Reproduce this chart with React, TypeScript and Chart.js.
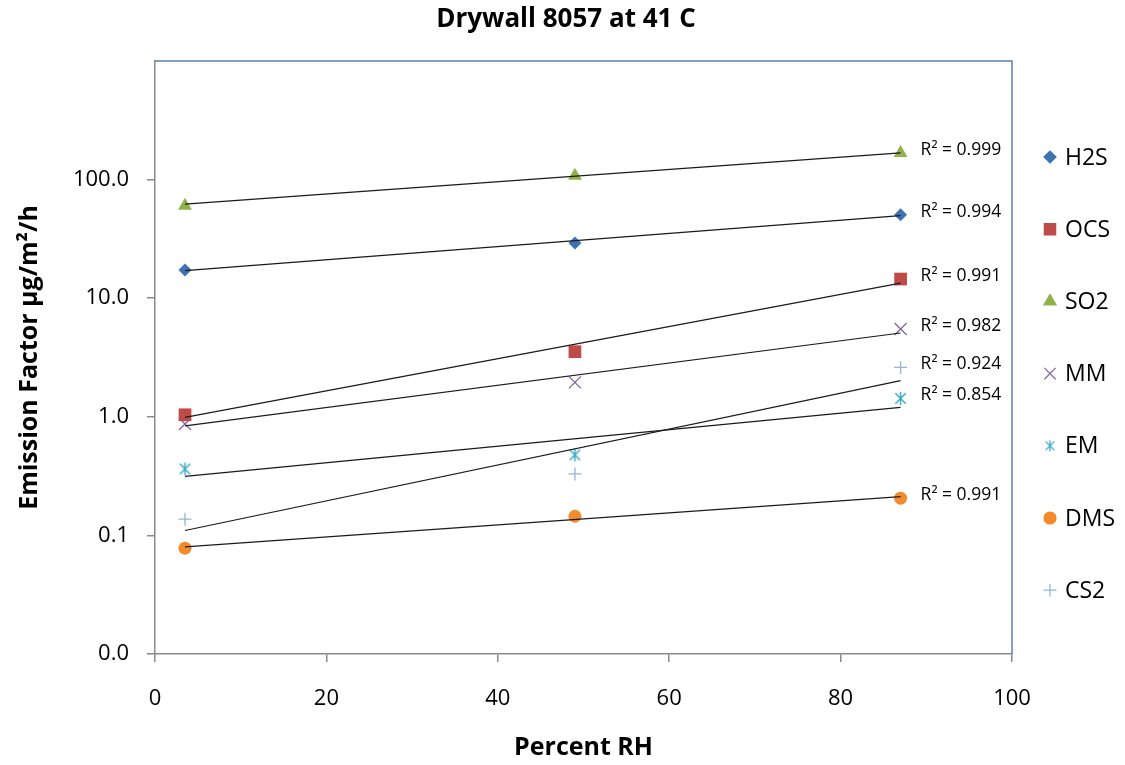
import React, { useEffect, useRef } from 'react';
import { Chart, registerables } from 'chart.js';
import { drawPoint } from 'chart.js/helpers';

Chart.register(...registerables);

// ---------- data ----------
const seriesNames = ['H2S', 'OCS', 'SO2', 'MM', 'EM', 'DMS', 'CS2'];
const percentRH = [3.5, 49, 87];

const h2sValues = [17.3, 29.2, 50.6];
const ocsValues = [1.04, 3.54, 14.5];
const so2Values = [60.3, 108, 168];
const mmValues = [0.87, 1.95, 5.5];
const emValues = [0.363, 0.477, 1.43];
const dmsValues = [0.078, 0.145, 0.206];
const cs2Values = [0.137, 0.33, 2.61];

// exponential trendline end points
const trendRH = [3.5, 87];
const h2sTrend = [17.1, 49.7];
const ocsTrend = [0.99, 13.4];
const so2Trend = [62.2, 168];
const mmTrend = [0.84, 5.09];
const emTrend = [0.315, 1.2];
const dmsTrend = [0.08, 0.212];
const cs2Trend = [0.11, 2.02];

const r2Labels = ['R² = 0.994', 'R² = 0.991', 'R² = 0.999', 'R² = 0.982', 'R² = 0.854', 'R² = 0.991', 'R² = 0.924'];

const yTickValues = [0.01, 0.1, 1, 10, 100];

const titleText = 'Drywall 8057 at 41 C';
const xTitle = 'Percent RH';
const yTitle = 'Emission Factor μg/m²/h';

// ---------- styles ----------
const colors = ['#3f72b5', '#be4b48', '#8fb34a', '#8064a2', '#35a7c4', '#f38b2c', '#95b3d7'];
const FONT = '"Open Sans", sans-serif';

const seriesValues = [h2sValues, ocsValues, so2Values, mmValues, emValues, dmsValues, cs2Values];
const trendValues = [h2sTrend, ocsTrend, so2Trend, mmTrend, emTrend, dmsTrend, cs2Trend];

function makeAsterisk(size: number, color: string, lw: number) {
  const c = document.createElement('canvas');
  c.width = size;
  c.height = size;
  const g = c.getContext('2d')!;
  g.strokeStyle = color;
  g.lineWidth = lw;
  const h = size / 2;
  const r = size / 2 - 1;
  g.beginPath();
  g.moveTo(h, h - r);
  g.lineTo(h, h + r);
  const d = r * 0.8;
  g.moveTo(h - d, h - d);
  g.lineTo(h + d, h + d);
  g.moveTo(h + d, h - d);
  g.lineTo(h - d, h + d);
  g.stroke();
  return c;
}

export default function App() {
  const ref = useRef<HTMLCanvasElement | null>(null);

  useEffect(() => {
    if (!ref.current) return;
    const star = makeAsterisk(15, colors[4], 1.4);
    const starSmall = makeAsterisk(13, colors[4], 1.3);

    const styles: any[] = [
      { pointStyle: 'rectRot', radius: 6.5, fill: true },
      { pointStyle: 'rect', radius: 9, fill: true },
      { pointStyle: 'triangle', radius: 8, fill: true },
      { pointStyle: 'crossRot', radius: 8.5, fill: false },
      { pointStyle: star, radius: 7, fill: false },
      { pointStyle: 'circle', radius: 6.5, fill: true },
      { pointStyle: 'cross', radius: 6.5, fill: false },
    ];
    const legendStyles: any[] = [
      { pointStyle: 'rectRot', radius: 6 },
      { pointStyle: 'rect', radius: 8 },
      { pointStyle: 'triangle', radius: 7 },
      { pointStyle: 'crossRot', radius: 8 },
      { pointStyle: starSmall, radius: 6 },
      { pointStyle: 'circle', radius: 6 },
      { pointStyle: 'cross', radius: 6.5 },
    ];

    const datasets: any[] = [];
    seriesNames.forEach((name, i) => {
      datasets.push({
        type: 'scatter',
        label: name,
        data: percentRH.map((x, j) => ({ x, y: seriesValues[i][j] })),
        pointStyle: styles[i].pointStyle,
        pointRadius: styles[i].radius,
        pointHoverRadius: styles[i].radius,
        backgroundColor: colors[i],
        borderColor: colors[i],
        pointBorderWidth: styles[i].fill ? 0 : 1.3,
        showLine: false,
        order: 2,
      });
    });
    seriesNames.forEach((name, i) => {
      datasets.push({
        type: 'line',
        label: name + ' trend',
        data: trendRH.map((x, j) => ({ x, y: trendValues[i][j] })),
        borderColor: '#1a1a1a',
        borderWidth: 1.2,
        pointRadius: 0,
        fill: false,
        order: 1,
      });
    });

    const overlay = {
      id: 'overlay',
      beforeDatasetsDraw(chart: any) {
        const { ctx, chartArea } = chart;
        ctx.save();
        ctx.strokeStyle = '#5b80ae';
        ctx.lineWidth = 1.5;
        ctx.beginPath();
        ctx.moveTo(chartArea.left, chartArea.top);
        ctx.lineTo(chartArea.right, chartArea.top);
        ctx.lineTo(chartArea.right, chartArea.bottom);
        ctx.stroke();
        ctx.restore();
      },
      afterDraw(chart: any) {
        const { ctx } = chart;
        const xs = chart.scales.x;
        const ys = chart.scales.y;
        ctx.save();
        // title
        ctx.fillStyle = '#000';
        ctx.font = `bold 26px ${FONT}`;
        ctx.textAlign = 'center';
        ctx.textBaseline = 'middle';
        ctx.fillText(titleText, 566, 20);
        // R² labels
        ctx.font = `17.5px ${FONT}`;
        ctx.textAlign = 'left';
        seriesNames.forEach((_, i) => {
          const last = seriesValues[i].length - 1;
          const px = xs.getPixelForValue(percentRH[last]) + 20;
          const py = ys.getPixelForValue(seriesValues[i][last]) - 3;
          ctx.fillText(r2Labels[i], px, py);
        });
        // legend
        ctx.font = `23px ${FONT}`;
        seriesNames.forEach((name, i) => {
          const cy = 157 + i * 72.2;
          const ls = legendStyles[i];
          ctx.fillStyle = colors[i];
          ctx.strokeStyle = colors[i];
          ctx.lineWidth = 1.2;
          drawPoint(ctx, { pointStyle: ls.pointStyle, radius: ls.radius, rotation: 0, borderWidth: 1.2 } as any, 1050, cy);
          if (styles[i].fill) ctx.fill();
          ctx.fillStyle = '#000';
          ctx.fillText(name, 1065, cy + 1);
        });
        ctx.restore();
      },
    };

    const chart = new Chart(ref.current, {
      type: 'scatter',
      data: { datasets },
      plugins: [overlay],
      options: {
        animation: false,
        responsive: false,
        maintainAspectRatio: false,
        layout: { padding: { top: 61, right: 113, left: 0, bottom: 0 } },
        plugins: {
          legend: { display: false },
          title: { display: false },
          tooltip: { enabled: false },
        },
        scales: {
          x: {
            type: 'linear',
            min: 0,
            max: 100,
            afterFit: (s: any) => {
              s.height = 111;
            },
            ticks: {
              stepSize: 20,
              color: '#000',
              font: { family: FONT, size: 22 },
              padding: 24,
            },
            grid: {
              drawOnChartArea: false,
              drawTicks: true,
              tickLength: 8,
              color: '#8a8a8a',
              lineWidth: 1.5,
            },
            border: { color: '#8a8a8a', width: 1.5 },
            title: {
              display: true,
              text: xTitle,
              color: '#000',
              font: { family: FONT, size: 25, weight: 'bold' },
              padding: { top: 0, bottom: 2 },
            },
          },
          y: {
            type: 'logarithmic',
            min: 0.01,
            max: 1000,
            afterFit: (s: any) => {
              s.width = 155;
            },
            afterBuildTicks: (s: any) => {
              s.ticks = yTickValues.map((v) => ({ value: v }));
            },
            ticks: {
              color: '#000',
              font: { family: FONT, size: 22 },
              padding: 18,
              callback: (v: any) => Number(v).toFixed(1),
            },
            grid: {
              drawOnChartArea: false,
              drawTicks: true,
              tickLength: 8,
              color: '#8a8a8a',
              lineWidth: 1.5,
            },
            border: { color: '#8a8a8a', width: 1.5 },
            title: {
              display: true,
              text: yTitle,
              color: '#000',
              font: { family: FONT, size: 25, weight: 'bold' },
              padding: { top: 15, bottom: 0 },
            },
          },
        },
      },
    });
    return () => chart.destroy();
  }, []);

  return (
    <div style={{ position: 'absolute', left: 0, top: 0, width: 1125, height: 765, background: '#fff' }}>
      <canvas ref={ref} width={1125} height={765} style={{ width: 1125, height: 765 }} />
    </div>
  );
}
